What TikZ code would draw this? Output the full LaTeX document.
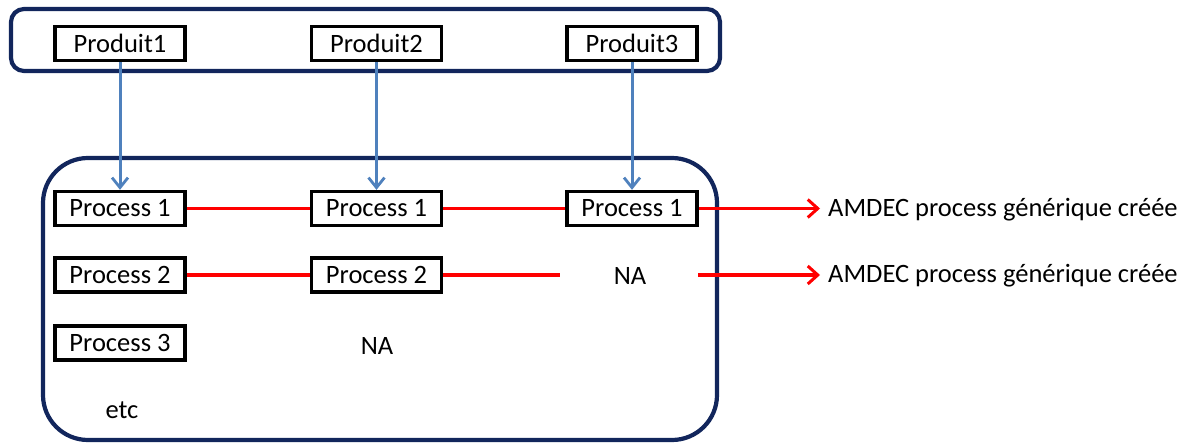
\documentclass[tikz,border=0pt]{standalone}
\usepackage{fontspec}
\setmainfont{Carlito}
\usetikzlibrary{arrows.meta}
\definecolor{navy}{RGB}{18,38,92}
\definecolor{arrblue}{RGB}{79,129,189}
\definecolor{linered}{RGB}{255,0,0}
\tikzset{
  frame/.style={draw=navy,line width=4.2pt},
  pbox/.style={draw=black,line width=3.3pt,minimum width=130pt,minimum height=34pt,inner sep=0pt,font=\fontsize{26.5}{30}\selectfont},
  plain/.style={inner sep=0pt,font=\fontsize{26.5}{30}\selectfont},
  flow/.style={draw=arrblue,line width=3pt,-{Straight Barb[length=10pt,width=16pt,line width=2.8pt]}},
  link/.style={draw=linered,line width=3.3pt},
  linkarr/.style={draw=linered,line width=3.3pt,-{Straight Barb[length=10pt,width=18pt,line width=3pt]}}
}
\begin{document}
\begin{tikzpicture}[x=1pt,y=-1pt]
\useasboundingbox (0,0) rectangle (1194,443);
\draw[frame,rounded corners=13pt] (11,9) rectangle (720,71);
\draw[frame,rounded corners=45pt] (43,158) rectangle (717,440);
\node[pbox] (d1) at (120,43.5) {Produit1};
\node[pbox] (d2) at (376.5,43.5) {Produit2};
\node[pbox] (d3) at (632,43.5) {Produit3};
\node[pbox] (a1) at (120,208.5) {Process 1};
\node[pbox] (b1) at (376.5,208.5) {Process 1};
\node[pbox] (c1) at (632,208.5) {Process 1};
\node[pbox] (a2) at (120,275) {Process 2};
\node[pbox] (b2) at (376.5,275) {Process 2};
\node[plain] (c2) at (630,276) {NA};
\node[pbox] (a3) at (120,343) {Process 3};
\node[plain] (b3) at (377,346) {NA};
\node[plain] (etc) at (122,410) {etc};
\node[plain,anchor=west] (t1) at (828,210) {AMDEC process générique créée};
\node[plain,anchor=west] (t2) at (828,276) {AMDEC process générique créée};
\coordinate (c2w) at (560,275);
\coordinate (c2e) at (698,275);
\draw[flow] (d1.south) -- (a1.north);
\draw[flow] (d2.south) -- (b1.north);
\draw[flow] (d3.south) -- (c1.north);
\draw[link] (a1) -- (b1);
\draw[link] (b1) -- (c1);
\draw[linkarr] (c1.east) -- ([xshift=-8pt]t1.west |- c1.east);
\draw[link] (a2) -- (b2);
\draw[link] (b2.east) -- (c2w);
\draw[linkarr] (c2e) -- ([xshift=-8pt]t2.west |- c2e);
\end{tikzpicture}
\end{document}
